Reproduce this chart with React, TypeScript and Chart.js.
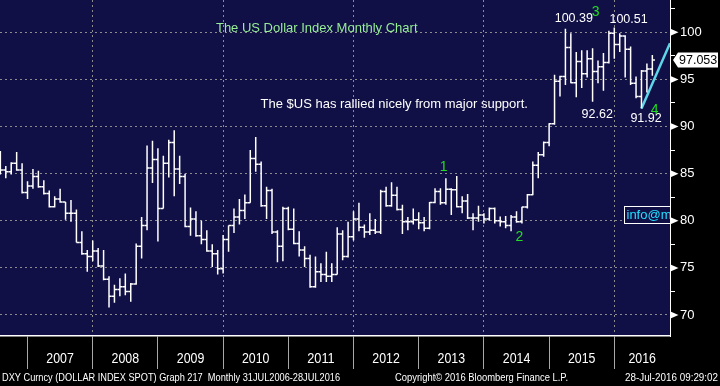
import React, { useEffect, useRef } from 'react';
import { Chart, registerables } from 'chart.js';

Chart.register(...registerables);

// Monthly DXY bars, Jul 2006 (index 0) .. Jul 2016 (index 120)
const opens = [
  85.6, 85.4, 85.2, 86.1, 85.4, 83.0,
  83.7, 84.7, 83.6, 82.9, 81.5, 82.3, 82.0, 80.8, 80.8, 77.7, 76.5, 76.2,
  76.8, 75.2, 73.8, 72.0, 72.7, 73.0, 72.5, 73.3, 77.3, 79.5, 85.6, 86.5,
  81.3, 86.1, 88.3, 85.5, 84.7, 79.4, 80.2, 78.4, 78.0, 76.8, 76.5, 74.9,
  78.0, 79.5, 80.4, 81.1, 81.9, 86.6, 86.0, 81.6, 83.2, 78.8, 77.3, 81.3,
  79.1, 77.6, 76.9, 76.0, 73.0, 74.6, 74.3, 74.1, 74.3, 78.6, 76.2, 78.3,
  80.2, 79.3, 78.8, 79.0, 78.8, 83.1, 81.6, 82.7, 81.2, 79.9, 79.9, 80.1,
  79.8, 79.2, 81.95, 83.1, 81.9, 83.35, 83.3, 81.5, 82.1, 80.3, 80.3, 80.6,
  80.2, 81.3, 80.0, 79.9, 79.5, 80.4, 79.9, 81.45, 82.75, 85.9, 87.0, 88.3,
  90.3, 94.8, 95.3, 98.4, 94.65, 96.9, 95.6, 97.2, 95.85, 96.35, 96.8, 99.9,
  98.7, 99.6, 98.2, 94.6, 93.2, 95.9, 96.1,
];
const highs = [
  87.4, 85.8, 86.2, 87.3, 86.1, 84.2,
  85.5, 85.3, 84.3, 83.2, 82.6, 83.4, 82.0, 82.2, 81.2, 78.9, 76.9, 77.9,
  77.1, 76.9, 74.1, 73.2, 73.9, 74.4, 73.4, 77.6, 80.4, 88.0, 88.5, 87.7,
  86.9, 88.6, 89.6, 86.9, 85.0, 81.4, 81.0, 80.0, 79.0, 77.5, 76.9, 78.5,
  79.5, 81.3, 82.3, 82.8, 87.5, 88.9, 86.3, 83.6, 83.4, 79.0, 81.5, 81.5,
  81.3, 78.9, 77.3, 76.4, 76.2, 75.5, 76.7, 75.5, 79.3, 79.0, 79.9, 81.0,
  81.9, 79.6, 80.8, 80.2, 83.3, 83.6, 84.1, 83.6, 81.7, 80.4, 81.3, 80.9,
  80.4, 82.0, 83.45, 83.45, 84.5, 83.45, 84.75, 82.6, 82.85, 80.8, 81.6, 80.8,
  81.4, 81.4, 80.45, 80.5, 80.6, 81.0, 81.5, 82.85, 86.3, 87.3, 88.4, 90.35,
  95.5, 95.4, 100.39, 99.9, 97.9, 98.1, 98.1, 98.3, 97.0, 97.8, 100.17, 100.51,
  99.9, 99.7, 98.5, 95.3, 96.0, 96.7, 97.6,
];
const lows = [
  84.9, 84.5, 84.9, 85.3, 82.9, 82.3,
  83.4, 83.5, 82.8, 81.4, 81.4, 81.9, 80.1, 79.9, 77.7, 76.4, 74.6, 75.7,
  75.1, 73.7, 70.8, 71.3, 72.0, 72.1, 71.4, 73.2, 76.0, 79.0, 84.0, 77.8,
  81.3, 84.6, 82.6, 83.9, 79.3, 78.4, 78.3, 77.5, 76.7, 75.1, 74.3, 74.4,
  76.7, 78.7, 79.6, 80.2, 81.9, 85.2, 81.5, 80.2, 78.6, 75.6, 75.7, 79.0,
  77.5, 76.2, 75.1, 72.9, 72.9, 73.5, 73.5, 73.5, 74.3, 75.8, 76.1, 77.9,
  78.9, 78.2, 78.5, 78.6, 78.6, 81.5, 81.5, 81.1, 78.6, 79.0, 79.6, 79.1,
  78.9, 79.1, 81.85, 81.7, 81.7, 80.6, 81.4, 80.8, 80.2, 79.0, 79.9, 79.7,
  80.0, 79.7, 79.4, 79.2, 78.9, 79.8, 79.7, 81.3, 82.7, 84.5, 86.8, 87.9,
  90.2, 93.2, 94.4, 94.6, 93.1, 94.1, 95.2, 92.62, 94.6, 93.8, 96.7, 97.2,
  97.9, 95.2, 94.4, 93.0, 91.92, 93.6, 95.4,
];
const closes = [
  85.4, 85.2, 86.1, 85.4, 83.0, 83.7,
  84.7, 83.6, 82.9, 81.5, 82.3, 82.0, 80.8, 80.8, 77.7, 76.5, 76.2, 76.8,
  75.2, 73.8, 72.0, 72.7, 73.0, 72.5, 73.3, 77.3, 79.5, 85.6, 86.5, 81.3,
  86.1, 88.3, 85.5, 84.7, 79.4, 80.2, 78.4, 78.0, 76.8, 76.5, 74.9, 78.0,
  79.5, 80.4, 81.1, 81.9, 86.6, 86.0, 81.6, 83.2, 78.8, 77.3, 81.3, 79.1,
  77.6, 76.9, 76.0, 73.0, 74.6, 74.3, 74.1, 74.3, 78.6, 76.2, 78.3, 80.2,
  79.3, 78.8, 79.0, 78.8, 83.1, 81.6, 82.7, 81.2, 79.9, 79.9, 80.1, 79.8,
  79.2, 81.95, 83.1, 81.9, 83.35, 83.3, 81.5, 82.1, 80.3, 80.3, 80.6, 80.2,
  81.3, 80.0, 79.9, 79.5, 80.4, 79.9, 81.45, 82.75, 85.9, 87.0, 88.3, 90.3,
  94.8, 95.3, 98.4, 94.65, 96.9, 95.6, 97.2, 95.85, 96.35, 96.8, 99.9, 98.7,
  99.6, 98.2, 94.6, 93.2, 95.9, 96.1, 97.053,
];

const yearLabels = ['2007', '2008', '2009', '2010', '2011', '2012', '2013', '2014', '2015', '2016'];
const yearStartIndex = [5, 17, 29, 41, 53, 65, 77, 89, 101, 113];
const yMajorTicks = [70, 75, 80, 85, 90, 95, 100];
const yMinorTicks = [72.5, 77.5, 82.5, 87.5, 92.5, 97.5, 102.5];
const lastValue = 97.053;
const trendFrom = { x: 118, y: 91.92 };
const trendTo = { x: 123.25, y: 98.85 };

const X_MIN = -0.065;
const X_MAX = 123.25;
const Y_MIN = 67.77;
const Y_MAX = 103.43;
const TICK = 0.48;

const SANS = "'Liberation Sans', Arial, sans-serif";
const NAVY = '#100f46';
const GRID = '#8c8c8c';

const notes = [
  { text: 'The US Dollar Index Monthly Chart', x: 58.23, y: 100.456, color: '#96ee96', font: `13px ${SANS}` },
  { text: 'The $US has rallied nicely from major support.', x: 72.49, y: 92.34, color: '#ffffff', font: `13px ${SANS}` },
  { text: '100.39', x: 105.55, y: 101.41, color: '#ffffff', font: `12.5px ${SANS}` },
  { text: '3', x: 109.58, y: 102.14, color: '#22dd22', font: `14px ${SANS}` },
  { text: '100.51', x: 115.62, y: 101.31, color: '#ffffff', font: `12.5px ${SANS}` },
  { text: '92.62', x: 109.85, y: 91.22, color: '#ffffff', font: `12.5px ${SANS}` },
  { text: '91.92', x: 118.84, y: 90.83, color: '#ffffff', font: `12.5px ${SANS}` },
  { text: '4', x: 120.44, y: 91.75, color: '#22dd22', font: `14px ${SANS}` },
  { text: '1', x: 81.57, y: 85.65, color: '#22dd22', font: `14px ${SANS}` },
  { text: '2', x: 95.52, y: 78.24, color: '#22dd22', font: `14px ${SANS}` },
];
const infoBox = { text: 'info@marketmatters.com.au', x: 114.7, top: 81.6, bottom: 79.73 };
const footer = [
  { text: 'DXY Curncy (DOLLAR INDEX SPOT) Graph 217  Monthly 31JUL2006-28JUL2016', x: 2, width: 338 },
  { text: 'Copyright\u00A9 2016 Bloomberg Finance L.P.', x: 395, width: 173 },
  { text: '28-Jul-2016 09:29:02', x: 625, width: 93 },
];

const yearMid = yearStartIndex.map((s, i) =>
  i < yearStartIndex.length - 1 ? s + 6 : (s + X_MAX) / 2
);
const xTickValues = [...yearStartIndex, ...yearMid].sort((a, b) => a - b);
const isBoundary = (v: number) => yearStartIndex.some((s) => Math.abs(s - v) < 1e-6);
const boundaryYear = (v: number) => {
  const k = yearStartIndex.findIndex((s) => Math.abs(s - v) < 1e-6);
  return k >= 0 ? 2007 + k : -1;
};

function buildOhlc() {
  const pts: { x: number; y: number | null }[] = [];
  for (let i = 0; i < closes.length; i++) {
    pts.push({ x: i, y: lows[i] }, { x: i, y: highs[i] }, { x: i, y: null });
    pts.push({ x: i - TICK, y: opens[i] }, { x: i, y: opens[i] }, { x: i, y: null });
    pts.push({ x: i, y: closes[i] }, { x: i + TICK, y: closes[i] }, { x: i, y: null });
  }
  return pts;
}

// text squeezed horizontally to mimic the terminal's condensed font
function narrowText(ctx: CanvasRenderingContext2D, text: string, x: number, y: number, width: number, align: 'left' | 'center') {
  const w = ctx.measureText(text).width;
  const k = Math.min(1, width / w);
  ctx.save();
  ctx.translate(x, y);
  ctx.scale(k, 1);
  ctx.textAlign = align;
  ctx.fillText(text, 0, 0);
  ctx.restore();
}

const backgroundPlugin = {
  id: 'bgPaint',
  beforeDraw(chart: any) {
    const { ctx, chartArea: a } = chart;
    ctx.save();
    ctx.fillStyle = '#000000';
    ctx.fillRect(0, 0, chart.width, chart.height);
    ctx.fillStyle = NAVY;
    ctx.fillRect(a.left, a.top, a.right - a.left, a.bottom - a.top);
    ctx.restore();
  },
};

const overlayPlugin = {
  id: 'overlay',
  afterDraw(chart: any) {
    const { ctx, chartArea: a } = chart;
    const xs = chart.scales.x;
    const ys = chart.scales.y;
    ctx.save();
    ctx.beginPath();
    ctx.rect(a.left, a.top, a.right - a.left, a.bottom - a.top);
    ctx.clip();
    ctx.textAlign = 'center';
    ctx.textBaseline = 'middle';
    for (const n of notes) {
      ctx.font = n.font;
      ctx.fillStyle = n.color;
      ctx.fillText(n.text, xs.getPixelForValue(n.x), ys.getPixelForValue(n.y));
    }
    // contact box
    const bx = Math.round(xs.getPixelForValue(infoBox.x)) + 0.5;
    const bt = Math.round(ys.getPixelForValue(infoBox.top)) + 0.5;
    const bb = Math.round(ys.getPixelForValue(infoBox.bottom)) + 0.5;
    ctx.fillStyle = NAVY;
    ctx.fillRect(bx, bt, a.right - bx, bb - bt);
    ctx.strokeStyle = '#ffffff';
    ctx.lineWidth = 1;
    ctx.strokeRect(bx, bt, 200, bb - bt);
    ctx.font = `13px ${SANS}`;
    ctx.fillStyle = '#22e0ff';
    ctx.textAlign = 'left';
    ctx.fillText(infoBox.text, bx + 2, (bt + bb) / 2 + 0.5);
    ctx.restore();

    // right axis markers
    ctx.save();
    ctx.fillStyle = '#ffffff';
    for (const v of yMajorTicks) {
      const py = ys.getPixelForValue(v);
      ctx.beginPath();
      ctx.moveTo(a.right + 0.5, py - 3.5);
      ctx.lineTo(a.right + 8.5, py);
      ctx.lineTo(a.right + 0.5, py + 3.5);
      ctx.closePath();
      ctx.fill();
    }
    // last value tag
    const ly = ys.getPixelForValue(lastValue);
    ctx.beginPath();
    ctx.moveTo(a.right + 3, ly);
    ctx.lineTo(a.right + 8, ly - 7.5);
    ctx.lineTo(a.right + 48, ly - 7.5);
    ctx.lineTo(a.right + 48, ly + 7.5);
    ctx.lineTo(a.right + 8, ly + 7.5);
    ctx.closePath();
    ctx.fill();
    ctx.fillStyle = '#000000';
    ctx.font = `12.5px ${SANS}`;
    ctx.textAlign = 'left';
    ctx.textBaseline = 'middle';
    ctx.fillText(lastValue.toFixed(3), a.right + 9, ly + 0.5);

    // year labels on the time axis
    ctx.fillStyle = '#ffffff';
    ctx.font = `15px ${SANS}`;
    ctx.textBaseline = 'middle';
    yearLabels.forEach((lab, i) => {
      narrowText(ctx, lab, xs.getPixelForValue(yearMid[i]), a.bottom + 23, 27.5, 'center');
    });

    // footer
    ctx.font = `11px ${SANS}`;
    for (const f of footer) narrowText(ctx, f.text, f.x, 378, f.width, 'left');
    ctx.restore();
  },
};

export default function App() {
  const ref = useRef<HTMLCanvasElement>(null);
  useEffect(() => {
    document.body.style.margin = '0';
    const chart = new Chart(ref.current as HTMLCanvasElement, {
      type: 'line',
      data: {
        datasets: [
          {
            data: buildOhlc() as any,
            borderColor: '#ffffff',
            borderWidth: 1.5,
            pointRadius: 0,
            spanGaps: false,
            tension: 0,
          },
          {
            data: [trendFrom, trendTo] as any,
            borderColor: '#5ed6ea',
            borderWidth: 2.5,
            pointRadius: 0,
            tension: 0,
          },
        ],
      },
      options: {
        animation: false,
        responsive: false,
        events: [],
        layout: { padding: 0, autoPadding: false },
        plugins: { legend: { display: false }, tooltip: { enabled: false } },
        scales: {
          x: {
            type: 'linear',
            position: 'bottom',
            min: X_MIN,
            max: X_MAX,
            afterBuildTicks: (s: any) => {
              s.ticks = xTickValues.map((v) => ({ value: v }));
            },
            afterFit: (s: any) => {
              s.height = 50;
              s.paddingLeft = 0;
              s.paddingRight = 0;
              s.paddingTop = 0;
              s.paddingBottom = 0;
            },
            ticks: { display: false, autoSkip: false, maxRotation: 0 },
            grid: {
              drawOnChartArea: true,
              drawTicks: true,
              tickLength: 33,
              lineWidth: 1,
              color: (c: any) => {
                const y = boundaryYear(c.tick?.value);
                return y > 0 && y % 2 === 0 ? GRID : 'rgba(0,0,0,0)';
              },
              tickColor: (c: any) => (isBoundary(c.tick?.value) ? '#a8a8a8' : 'rgba(0,0,0,0)'),
              tickWidth: 1,
            },
            border: { display: true, color: '#ffffff', width: 1.5, dash: [2, 3] },
          },
          y: {
            type: 'linear',
            position: 'right',
            min: Y_MIN,
            max: Y_MAX,
            afterBuildTicks: (s: any) => {
              s.ticks = [...yMajorTicks, ...yMinorTicks].sort((p, q) => p - q).map((v) => ({ value: v }));
            },
            afterFit: (s: any) => {
              s.width = 50;
              s.paddingTop = 0;
              s.paddingBottom = 0;
              s.paddingLeft = 0;
              s.paddingRight = 0;
            },
            ticks: {
              padding: 5,
              color: '#ffffff',
              font: { family: SANS, size: 13 },
              callback: (v: any) => (yMajorTicks.includes(Number(v)) ? String(v) : ''),
            },
            grid: {
              tickLength: 5,
              lineWidth: 1,
              color: (c: any) => (yMajorTicks.includes(c.tick?.value) ? GRID : 'rgba(0,0,0,0)'),
              tickColor: '#ffffff',
            },
            border: { display: true, color: '#ffffff', width: 1, dash: [2, 3] },
          },
        },
      },
      plugins: [backgroundPlugin, overlayPlugin],
    } as any);
    return () => chart.destroy();
  }, []);
  return (
    <div style={{ width: 720, height: 386 }}>
      <canvas ref={ref} width={720} height={386} style={{ display: 'block' }} />
    </div>
  );
}
